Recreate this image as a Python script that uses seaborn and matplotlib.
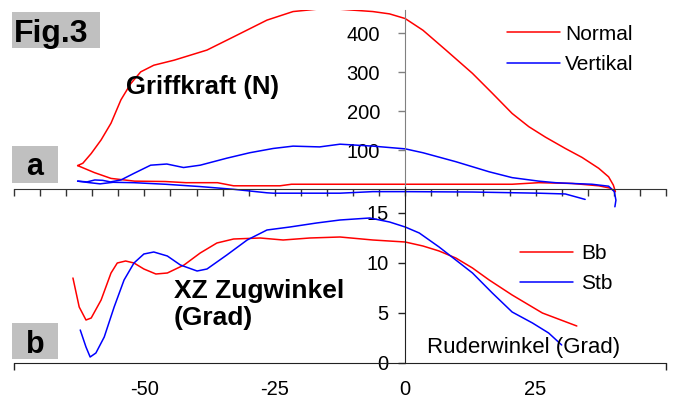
import numpy as np
import pandas as pd
import seaborn as sns
import matplotlib.pyplot as plt
from matplotlib.patches import Rectangle

sns.set_style("white")
plt.rcParams['font.family'] = ['Liberation Sans', 'DejaVu Sans']
plt.rcParams['axes.unicode_minus'] = False
plt.rcParams['text.color'] = 'black'
plt.rcParams['xtick.color'] = 'black'
plt.rcParams['ytick.color'] = 'black'

# Griffkraft (N) over Ruderwinkel - one loop per stroke (drive, then recovery)
normal_x = [-62.8, -61.8, -60.2, -58.3, -56.4, -54.5, -52.6, -50.7, -48.2, -44.3, -38.0, -32.9,
            -26.5, -21.5, -17.0, -12.5, -6.2, -3.0, 0.0, 3.4, 7.8, 12.9, 16.7, 20.5, 23.7, 26.9,
            30.7, 33.9, 37.1, 39.0, 39.9, 40.3,
            39.3, 37.1, 32.0, 25.6, 20.5, 10.0, 0.0, -12.5, -21.8, -24.0, -32.9, -36.0, -42.0,
            -46.0, -51.9, -56.4, -59.6, -62.8]
normal_f = [60, 66, 91, 126, 169, 229, 271, 301, 318, 331, 357, 391,
            434, 456, 462, 462, 456, 450, 438, 408, 357, 297, 246, 194, 160, 133,
            104, 81, 53, 31, 10, -7,
            2, 8, 14, 16, 12, 12, 12, 12, 12, 8, 8, 16, 16,
            19, 20, 27, 42, 60]

vert_x = [-62.8, -61.0, -59.5, -58.0, -56.5, -54.5, -52.0, -48.8, -45.7, -42.5, -39.3, -34.2,
          -29.8, -25.3, -21.5, -16.4, -12.5, -6.2, 0.0, 3.4, 9.7, 16.1, 20.5, 25.6, 28.8, 32.0,
          35.8, 39.0, 40.1, 40.4, 40.2]
vert_f = [20, 18, 23, 22, 18, 23, 40, 61, 64, 55, 61, 79,
          93, 104, 110, 108, 115, 110, 103, 93, 70, 44, 29, 20, 16, 14,
          12, 7, -7, -29, -46]

vert_back_x = [34.5, 30.7, 25.6, 12.9, 0.0, -6.2, -12.5, -25.3, -26.5, -32.9, -39.3, -46.0,
               -52.0, -56.0, -58.5, -60.5, -62.8]
vert_back_f = [-27, -13, -11, -8, -7, -7, -11, -11, -10, -1, 6, 12,
               16, 17, 13, 16, 20]

# XZ Zugwinkel (Grad)
bb_x = [-63.7, -62.5, -61.2, -60.2, -58.3, -56.4, -55.2, -53.6, -52.0, -50.1, -47.8, -45.6,
        -42.4, -39.3, -36.1, -32.9, -27.8, -23.4, -18.3, -12.5, -6.2, 0.0, 3.4, 6.5, 9.7,
        12.9, 16.1, 20.5, 26.3, 32.9]
bb_a = [8.5, 5.6, 4.3, 4.5, 6.3, 9.0, 10.0, 10.2, 10.0, 9.4, 8.9, 9.0,
        9.8, 11.0, 12.0, 12.4, 12.5, 12.3, 12.5, 12.6, 12.3, 12.1, 11.7, 11.2, 10.5,
        9.5, 8.3, 6.8, 5.0, 3.7]

stb_x = [-62.3, -61.2, -60.4, -59.3, -57.7, -55.8, -53.9, -52.0, -50.1, -48.2, -45.6, -43.1,
         -39.9, -38.0, -34.2, -30.3, -26.5, -22.1, -17.0, -12.5, -6.8, -3.0, 0.0, 2.7, 6.5,
         9.7, 12.9, 16.7, 20.5, 24.4, 27.5, 30.0]
stb_a = [3.3, 1.6, 0.6, 1.0, 2.6, 5.6, 8.3, 10.0, 10.9, 11.1, 10.7, 9.8,
         9.2, 9.4, 10.8, 12.3, 13.3, 13.6, 14.0, 14.3, 14.5, 14.1, 13.6, 13.0, 11.6,
         10.3, 9.0, 7.0, 5.1, 4.0, 3.0, 1.8]

RED = '#ff0000'
BLUE = '#0000ff'

fig = plt.figure(figsize=(6.76, 3.98), dpi=100)
rect = [14 / 676, 35 / 398, 652 / 676, 353 / 398]
ax1 = fig.add_axes(rect, label='kraft')
ax2 = fig.add_axes(rect, label='winkel')
ax1.patch.set_visible(False)
ax2.patch.set_visible(False)

df_n = pd.DataFrame({'x': normal_x, 'y': normal_f})
df_v = pd.DataFrame({'x': vert_x, 'y': vert_f})
df_vb = pd.DataFrame({'x': vert_back_x, 'y': vert_back_f})
sns.lineplot(data=df_n, x='x', y='y', sort=False, estimator=None, color=RED, lw=1.1,
             label='Normal', ax=ax1)
sns.lineplot(data=df_v, x='x', y='y', sort=False, estimator=None, color=BLUE, lw=1.1,
             label='Vertikal', ax=ax1)
sns.lineplot(data=df_vb, x='x', y='y', sort=False, estimator=None, color=BLUE, lw=1.1,
             ax=ax1)

df_bb = pd.DataFrame({'x': bb_x, 'y': bb_a})
df_stb = pd.DataFrame({'x': stb_x, 'y': stb_a})
sns.lineplot(data=df_bb, x='x', y='y', sort=False, estimator=None, color=RED, lw=1.1,
             label='Bb', ax=ax2)
sns.lineplot(data=df_stb, x='x', y='y', sort=False, estimator=None, color=BLUE, lw=1.1,
             label='Stb', ax=ax2)

for ax in (ax1, ax2):
    ax.set_xlim(-75, 50)
    ax.set_xlabel('')
    ax.set_ylabel('')
    ax.spines['top'].set_visible(False)
    ax.spines['right'].set_visible(False)
    ax.spines['left'].set_position(('data', 0))

ax1.set_ylim(-447.6, 460)
ax2.set_ylim(0, 35.3)

# top panel axes
ax1.spines['bottom'].set_position(('data', 0))
ax1.spines['bottom'].set_color('#333333')
ax1.spines['left'].set_color('#808080')
ax1.spines['left'].set_bounds(0, 460)
ax1.set_xticks(np.arange(-75, 51, 5))
ax1.set_xticklabels([])
ax1.tick_params(axis='x', bottom=True, direction='out', length=5, width=1, color='#333333')
ax1.set_yticks([100, 200, 300, 400])
ax1.tick_params(axis='y', left=True, direction='out', length=5, width=1, color='#808080',
                pad=13, labelsize=14.5, labelcolor='black')

# bottom panel axes
ax2.spines['bottom'].set_color('#222222')
ax2.spines['left'].set_color('#222222')
ax2.spines['left'].set_bounds(0, 17.6)
ax2.set_xticks([-50, -25, 0, 25])
ax2.set_xticks([-75, 50], minor=True)
ax2.tick_params(axis='x', which='major', bottom=True, length=0, pad=12.5, labelsize=14.5,
                labelcolor='black')
ax2.tick_params(axis='x', which='minor', bottom=True, direction='out', length=5, width=1,
                color='#222222')
ax2.set_yticks([0, 5, 10, 15])
ax2.tick_params(axis='y', left=True, direction='out', length=5, width=1, color='#222222',
                pad=7, labelsize=14.5, labelcolor='black')

# legends
ax1.legend(loc='upper left', bbox_to_anchor=(507 / 676, 1 - 24.5 / 398),
           bbox_transform=fig.transFigure, frameon=False, fontsize=15,
           handlelength=2.55, handletextpad=0.25, borderpad=0, borderaxespad=0,
           labelspacing=0.55)
ax2.legend(loc='upper left', bbox_to_anchor=(520 / 676, 1 - 244 / 398),
           bbox_transform=fig.transFigure, frameon=False, fontsize=15,
           handlelength=2.55, handletextpad=0.4, borderpad=0, borderaxespad=0,
           labelspacing=0.55)

# texts in the plot
ax1.text(-53.5, 245, 'Griffkraft (N)', fontsize=18.5, fontweight='bold',
         ha='left', va='baseline')
ax2.text(-44.4, 3.8, 'XZ Zugwinkel\n(Grad)', fontsize=19, fontweight='bold',
         ha='left', va='baseline', linespacing=1.15)
ax2.text(4.1, 1.0, 'Ruderwinkel (Grad)', fontsize=16, ha='left', va='baseline')

# gray label boxes
def label_box(x0, y0, x1, y1, text, tx, ty, size):
    fig.add_artist(Rectangle((x0 / 676, 1 - y1 / 398), (x1 - x0) / 676, (y1 - y0) / 398,
                             transform=fig.transFigure, facecolor='#c0c0c0',
                             edgecolor='none', zorder=-1))
    fig.text(tx / 676, 1 - ty / 398, text, fontsize=size, fontweight='bold',
             ha='left', va='baseline')

label_box(12, 12, 100, 48, 'Fig.3', 14, 42, 23)
label_box(12, 146, 58, 183, 'a', 26, 175, 22)
label_box(12, 323, 58, 359, 'b', 26, 353, 22)

fig.savefig('out.png', dpi=100)
